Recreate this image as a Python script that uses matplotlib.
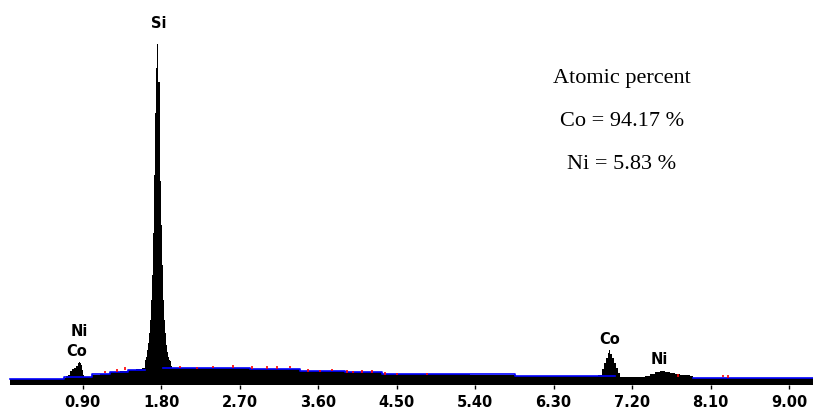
import matplotlib
matplotlib.use('Agg')
import matplotlib.pyplot as plt
import numpy as np

# %% Spectrum data (keV, counts)
energy = [0.065, 0.685, 0.708, 0.731, 0.754, 0.776, 0.799, 0.822, 0.845, 0.857,
          0.868, 0.880, 0.891, 0.903, 0.914, 1.006, 1.097, 1.212, 1.327, 1.418,
          1.510, 1.579,
          1.614, 1.625, 1.636, 1.648, 1.659, 1.671, 1.682, 1.694, 1.705, 1.717,
          1.728, 1.740, 1.751, 1.763, 1.774, 1.786, 1.797, 1.809, 1.820, 1.832,
          1.843, 1.855, 1.866, 1.877, 1.889, 1.900, 1.912,
          1.923, 2.244, 2.818, 3.391, 3.907, 4.331, 5.341, 5.868, 6.373,
          6.808, 6.831, 6.854, 6.877, 6.900, 6.923, 6.935, 6.946, 6.969, 6.992,
          7.015, 7.038, 7.061,
          7.347, 7.405, 7.462, 7.519, 7.577, 7.634, 7.691, 7.749, 7.806, 7.863,
          7.898, 9.274]
counts = [6, 7.5, 9, 10, 14, 16, 17, 19, 22, 23,
          22, 20, 15, 10, 8, 10.5, 11.5, 13.5, 14.5, 15.5,
          16.5, 17.5,
          25, 28, 35, 42, 52, 65, 85, 110, 152, 210,
          272, 317, 341, 303, 303, 204, 160, 120, 85, 65,
          52, 40, 33, 28, 25, 24, 19,
          17.5, 17.5, 16, 14.5, 13.5, 11, 10.5, 9, 9.5,
          10, 10, 16, 22, 27, 32, 35, 31, 27, 22,
          17, 12, 8,
          9, 11, 13, 14, 13, 12, 11.5, 10.5, 10, 9.5,
          7, 7]

# background fit (blue)
bg_energy = [0.065, 0.685, 1.006, 1.212, 1.418, 1.614, 1.820, 2.818, 3.391, 3.907,
             4.331, 5.857, 7.004, 7.898, 9.274]
bg_counts = [6, 7.7, 10.7, 13.3, 15, np.nan, 17, 15.7, 14.3, 13,
             10.7, 9, np.nan, 6.7, 6.7]

# red raw points above the fit
red_energy = [1.155, 1.289, 1.384, 2.015, 2.210, 2.393, 2.623, 2.841, 3.013, 3.127,
              3.276, 3.483, 3.620, 3.758, 3.930, 4.000, 4.103, 4.218, 4.365, 4.503,
              4.847, 7.726, 8.242, 8.300]
red_counts = [14.3, 16, 18, 19.3, 18.5, 19.3, 20, 19, 19, 19,
              19.3, 16, 15.5, 16.5, 15, 14.5, 15, 15, 13, 12.5,
              12.5, 11, 10.5, 10]

# peak labels
peak_names  = ['Si', 'Ni', 'Co', 'Co', 'Ni']
peak_energy = [1.774, 0.857, 0.83, 6.946, 7.508]
peak_height = [362, 53, 33, 46, 26]

ticks = [0.90, 1.80, 2.70, 3.60, 4.50, 5.40, 6.30, 7.20, 8.10, 9.00]

# %% Figure
fig = plt.figure(figsize=(8.13, 4.12), dpi=100)
ax = fig.add_axes([0, 27/412, 1, 385/412])

ax.fill_between(energy, counts, 0, step='post', color='black', lw=0)
ax.step(bg_energy, bg_counts, where='post', color='#0000ff', lw=1.2)
ax.vlines(red_energy, np.array(red_counts) - 2.5, red_counts, color='red', lw=1.2)

for name, e, h in zip(peak_names, peak_energy, peak_height):
    ax.text(e, h, name, ha='center', va='center', fontsize=10.5,
            fontweight='bold', family='DejaVu Sans')

ax.text(0.765, 0.81, 'Atomic percent', transform=fig.transFigure, ha='center',
        va='center', fontsize=16, family='Liberation Serif')
ax.text(0.765, 0.705, 'Co = 94.17 %', transform=fig.transFigure, ha='center',
        va='center', fontsize=16, family='Liberation Serif')
ax.text(0.765, 0.60, 'Ni = 5.83 %', transform=fig.transFigure, ha='center',
        va='center', fontsize=16, family='Liberation Serif')

ax.set_xlim(-4.3/87.2, 808.7/87.2)
ax.set_ylim(0, 385)
ax.set_xticks(ticks)
ax.set_xticklabels(['%.2f' % t for t in ticks], fontsize=10.5, fontweight='bold')
ax.tick_params(axis='x', length=3, width=1, pad=4)
ax.set_yticks([])
for s in ['top', 'right', 'left', 'bottom']:
    ax.spines[s].set_visible(False)

fig.savefig('out.png', dpi=100)
